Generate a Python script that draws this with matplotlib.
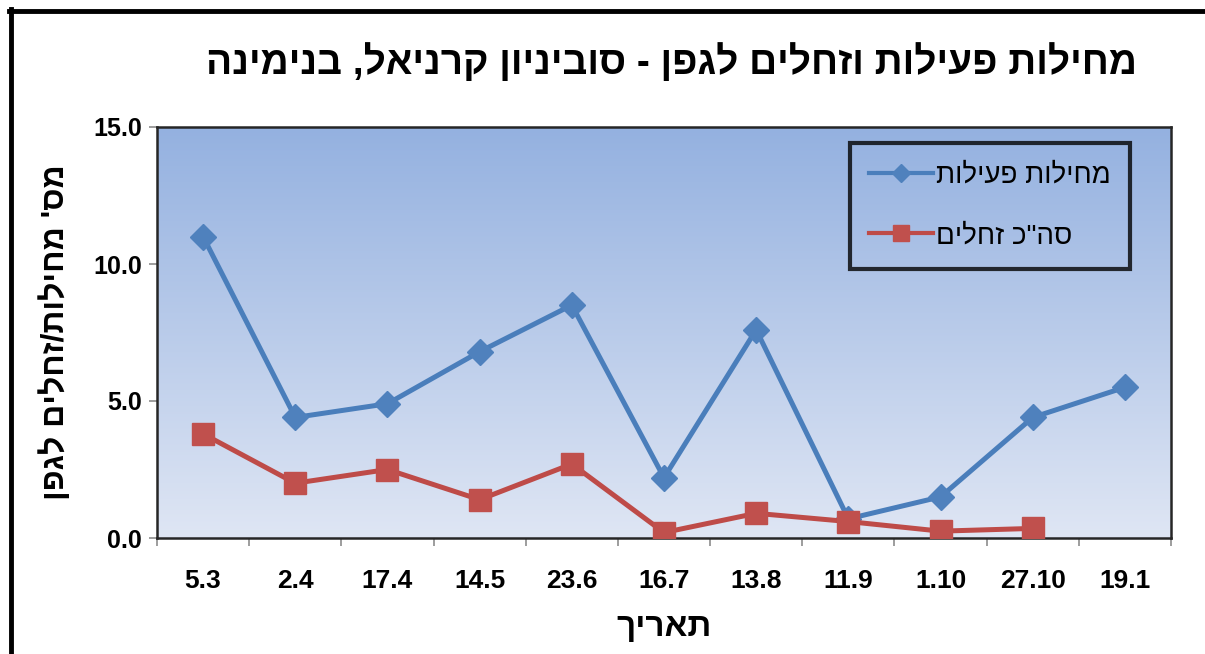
import numpy as np
import matplotlib
matplotlib.use("Agg")
import matplotlib.pyplot as plt
from matplotlib.lines import Line2D

# Data: sampling dates and counts per vine
dates = ["5.3", "2.4", "17.4", "14.5", "23.6", "16.7", "13.8", "11.9", "1.10", "27.10", "19.1"]
active_tunnels = [11.0, 4.4, 4.9, 6.8, 8.5, 2.2, 7.6, 0.7, 1.5, 4.4, 5.5]
total_larvae = [3.8, 2.0, 2.5, 1.4, 2.7, 0.2, 0.9, 0.6, 0.25, 0.35, np.nan]
y_ticks = [0.0, 5.0, 10.0, 15.0]

title = "מחילות פעילות וזחלים לגפן - סוביניון קרניאל, בנימינה"
series_names = ["מחילות פעילות", 'סה"כ זחלים']
x_label = "תאריך"
y_label = "מס' מחילות/זחלים לגפן"


def rtl(s):
    # matplotlib lays text out left-to-right; reverse Hebrew for display
    return s[::-1]


HEB = ["Liberation Sans", "DejaVu Sans"]
NARROW = ["Liberation Sans Narrow", "Liberation Sans", "DejaVu Sans"]

fig = plt.figure(figsize=(12.05, 6.54), dpi=100)
fig.patch.set_facecolor("white")
ax = fig.add_axes([157 / 1205, 1 - 538 / 654, (1171 - 157) / 1205, (538 - 127) / 654])

x = np.arange(len(dates))

# vertical gradient fill of the plot area
grad = np.linspace(0, 1, 256).reshape(-1, 1)
top = np.array([0x94, 0xb1, 0xe0]) / 255
bottom = np.array([0xdf, 0xe6, 0xf4]) / 255
img = bottom + (top - bottom) * grad
ax.imshow(img[:, None, :].repeat(2, axis=1), extent=[-0.5, len(dates) - 0.5, 0, 15],
          origin="lower", aspect="auto", zorder=0, interpolation="bilinear")

ax.plot(x, active_tunnels, color="#4a7ebb", lw=3.6, marker="D", ms=13,
        mfc="#4f81bd", mec="#4f81bd", zorder=3, label=rtl(series_names[0]))
ax.plot(x, total_larvae, color="#be4b48", lw=3.6, marker="s", ms=16,
        mfc="#c0504d", mec="#c0504d", zorder=4, label=rtl(series_names[1]))

ax.set_xlim(-0.5, len(dates) - 0.5)
ax.set_ylim(0, 15)

ax.set_yticks(y_ticks)
ax.set_yticklabels([f"{v:.1f}" for v in y_ticks], fontsize=18, fontweight="bold",
                   family=HEB)
ax.set_xticks(x)
ax.set_xticklabels(dates, fontsize=19, fontweight="bold", family=NARROW)
ax.set_xticks(np.arange(-0.5, len(dates), 1.0), minor=True)
ax.tick_params(axis="x", which="major", length=0, pad=22)
ax.tick_params(axis="x", which="minor", length=6, width=1.2, color="#8c8c8c")
ax.tick_params(axis="y", which="major", length=6, width=1.2, color="#8c8c8c", pad=5)

for s in ax.spines.values():
    s.set_color("#262626")
    s.set_linewidth(1.8)

ax.set_xlabel(rtl(x_label), fontsize=24, fontweight="bold", family=HEB, labelpad=14)
ax.set_ylabel(rtl(y_label), fontsize=23, fontweight="bold", family=HEB, labelpad=16)

leg = ax.legend(loc="upper right", bbox_to_anchor=(1130 / 1205, 1 - 143 / 654),
                bbox_transform=fig.transFigure, borderaxespad=0, frameon=True,
                fancybox=False, handlelength=2.3, prop={"family": HEB, "size": 20},
                labelspacing=1.25, borderpad=0.7, handletextpad=0.1)
leg.get_frame().set_facecolor("none")
leg.get_frame().set_edgecolor("black")
leg.get_frame().set_linewidth(3)
for h, ms in zip(leg.legend_handles, [9, 12]):
    h.set_markersize(ms)
    h.set_linewidth(3)

fig.text(672 / 1205, 1 - 63 / 654, rtl(title), fontsize=28, fontweight="bold",
         family=NARROW, ha="center", va="center")

# outer frame of the chart object (top and left edges visible)
fig.add_artist(Line2D([9 / 1205, 1.01], [1 - 11 / 654, 1 - 11 / 654],
                      transform=fig.transFigure, color="black", lw=3.5))
fig.add_artist(Line2D([11 / 1205, 11 / 1205], [-0.01, 1 - 9 / 654],
                      transform=fig.transFigure, color="black", lw=3.5))

fig.savefig("out.png", dpi=100)
